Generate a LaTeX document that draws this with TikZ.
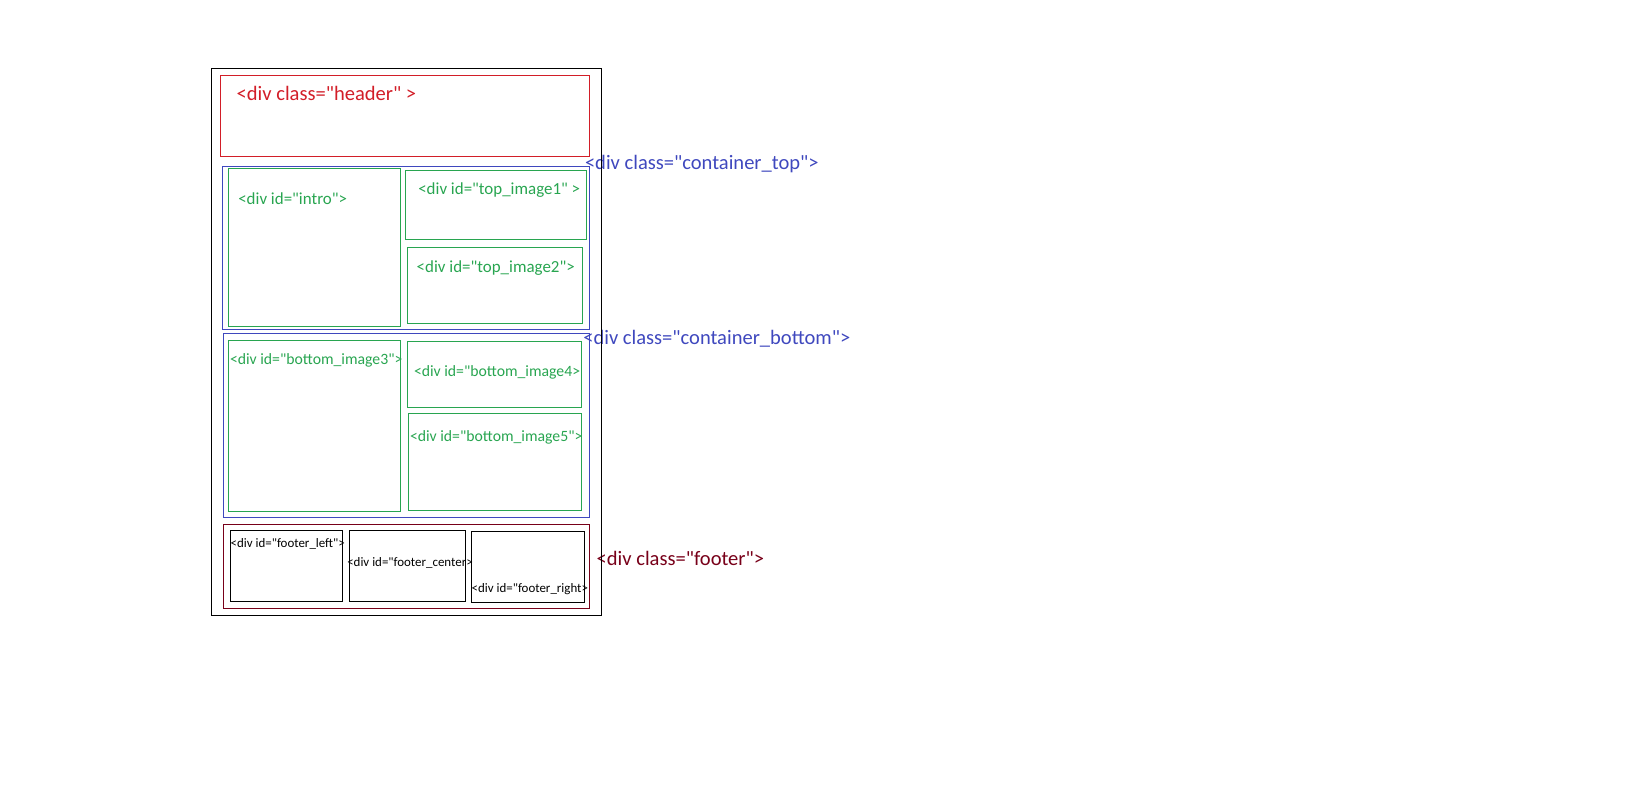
\documentclass[tikz,border=0pt]{standalone}
\usepackage{fontspec}
\newfontfamily\calfont{Carlito}
\usetikzlibrary{fit}
\definecolor{hred}{RGB}{210,30,40}
\definecolor{bgreen}{RGB}{40,165,80}
\definecolor{indigo}{RGB}{63,72,190}
\definecolor{dred}{RGB}{120,0,25}
\tikzset{
  box/.style={draw, line width=0.75pt, inner sep=0pt, outer sep=0pt},
  lbl/.style={inner sep=0pt, outer sep=0pt, anchor=base west},
  big/.style={lbl, font=\calfont\fontsize{15.4pt}{16pt}\selectfont},
  mid/.style={lbl, font=\calfont\fontsize{12.7pt}{14pt}\selectfont, text=bgreen},
  smid/.style={lbl, font=\calfont\fontsize{11.8pt}{13pt}\selectfont, text=bgreen},
  tiny/.style={lbl, font=\calfont\fontsize{9.7pt}{11pt}\selectfont, text=black},
}
\begin{document}
\begin{tikzpicture}[x=0.75pt, y=-0.75pt]
\useasboundingbox (0,0) rectangle (1630,792);
% texts
\node[big, text=hred] (theader) at (236.7,100) {<div class="header" >};
\node[big, text=indigo] (tctop) at (585,169.5) {<div class="container\_top">};
\node[big, text=indigo] (tcbot) at (583.3,344.5) {<div class="container\_bottom">};
\node[big, text=dred] (tfooter) at (596.7,565.5) {<div class="footer">};
\node[mid] (tintro) at (238.3,204.5) {<div id="intro">};
\node[mid] (ttop1) at (418.3,194.5) {<div id="top\_image1" >};
\node[mid] (ttop2) at (416.7,272) {<div id="top\_image2">};
\node[smid] (tb3) at (230,364.5) {<div id="bottom\_image3">};
\node[smid] (tb4) at (414,376) {<div id="bottom\_image4>};
\node[smid] (tb5) at (410,441) {<div id="bottom\_image5">};
\node[tiny] (tfl) at (230.7,547.5) {<div id="footer\_left">};
\node[tiny] (tfc) at (347.3,566.5) {<div id="footer\_center>};
\node[tiny] (tfr) at (471.7,592.5) {<div id="footer\_right>};
% boxes
\node[box, draw=black, fit={(211.7,68.3) (601.7,615.7)}] (page) {};
\node[box, draw=hred, fit={(220,76) (589.7,156.7)}] (header) {};
\node[box, draw=indigo, fit={(222.3,166.7) (589.7,329.3)}] (ctop) {};
\node[box, draw=bgreen, fit={(228.3,168.3) (400.7,326.7)}] (intro) {};
\node[box, draw=bgreen, fit={(405,170) (586.7,239.3)}] (top1) {};
\node[box, draw=bgreen, fit={(407.3,247.3) (582.7,323.3)}] (top2) {};
\node[box, draw=indigo, fit={(223.3,333.3) (589.7,517.3)}] (cbot) {};
\node[box, draw=bgreen, fit={(228.3,340.7) (400.7,511.3)}] (b3) {};
\node[box, draw=bgreen, fit={(407.3,341.3) (581.7,407.3)}] (b4) {};
\node[box, draw=bgreen, fit={(408.3,413.3) (581.7,510.7)}] (b5) {};
\node[box, draw=dred, fit={(223.3,524.3) (589.7,608.3)}] (footer) {};
\node[box, draw=black, fit={(230.3,530.3) (342.7,601.3)}] (fl) {};
\node[box, draw=black, fit={(349.3,530.3) (465.7,601.3)}] (fc) {};
\node[box, draw=black, fit={(471.7,531.3) (584.3,602.3)}] (fr) {};
\end{tikzpicture}
\end{document}
